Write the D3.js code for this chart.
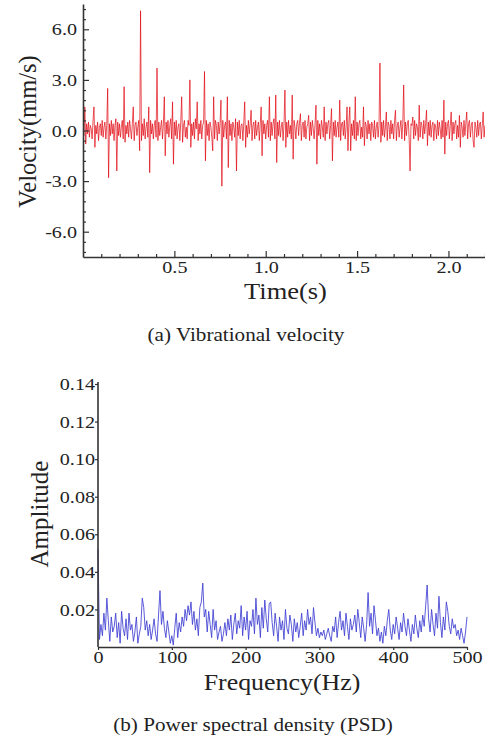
<!DOCTYPE html>
<html>
<head>
<meta charset="utf-8">
<script src="https://cdn.jsdelivr.net/npm/d3@7"></script>
<style>
  body { margin: 0; background: #fff; }
  svg { display: block; }
  text { font-family: "Liberation Serif", "Times New Roman", serif; fill: #222; }
  .axis path, .axis line { stroke: #333; }
</style>
</head>
<body>
<div id="chart"></div>
<script>
/* DATA */
// (a) velocity in mm/s, one value every 0.005 s from 0 to 2.2 s
const timeStep = 0.005;
const velocity = [
  0.2, -0.3, 1.4, -0.8, 0.4, -0.2, 0.5, -0.4, 0.3, 0.1, -0.5, 0.6, 1.4, -1.0, 0.3, -0.2, 0.5, -0.6, 0.2, 0.4,
  -0.3, 0.6, -0.4, 0.2, 0.5, -0.5, 0.3, 2.5, -2.8, 0.4, -0.3, 0.6, -0.2, 0.4, -0.6, 0.3, 0.7, -2.4, 0.5, -0.3,
  0.4, -0.4, 0.2, 0.6, -0.5, 2.6, -0.7, 0.3, -0.2, 0.5, -0.4, 0.6, 0.1, -0.5, 0.4, 1.4, -0.6, 0.3, 0.5, -0.3,
  0.2, 0.6, -1.2, 7.1, -0.6, 0.4, -0.3, 0.7, -0.5, 0.2, 0.5, -0.4, 1.4, -2.5, 0.6, -0.2, 0.4, -0.5, 0.3, 0.6,
  -0.4, 3.7, -0.6, 0.5, -0.3, 0.2, 0.6, -0.5, 0.4, 2.0, -1.5, 0.5, -0.2, 0.6, -0.4, 0.3, 0.7, -0.5, 1.7, -2.0,
  0.5, -0.3, 0.6, -0.5, 0.2, 0.4, -0.6, 0.5, 2.0, -0.7, 0.3, 0.6, -0.4, 0.2, -0.5, 0.6, 0.3, 3.0, -1.0, 0.4,
  -0.3, 0.5, -0.5, 0.7, 0.1, 1.7, -0.6, 0.4, -0.2, 0.6, -0.5, 0.3, 0.5, 3.5, -1.8, 0.6, -0.3, 0.4, -0.6, 0.5,
  0.2, -0.4, -1.2, 2.0, -0.5, 0.6, 0.3, -0.6, 0.5, -0.2, 0.4, 1.8, -3.3, 0.6, -0.4, 0.3, 0.5, -0.5, 2.0, -2.2,
  0.6, -0.3, 0.4, -0.6, 0.5, 0.2, -0.4, 0.7, -2.4, 0.5, -0.3, 0.6, -0.5, 0.3, 0.4, -0.6, 0.5, 1.7, -1.0, 0.3,
  -0.4, 0.6, -0.2, 0.4, 1.2, -0.6, 0.3, 0.5, -0.5, 0.6, -0.3, 0.2, 0.5, -0.6, 0.4, 1.4, -1.5, 0.6, -0.2, 0.4,
  -0.5, 0.3, 0.6, -0.4, 2.0, -0.6, 0.5, -0.3, 0.4, 0.7, -0.5, 2.1, -1.9, 0.5, -0.3, 0.6, -0.4, 0.2, 0.5, -0.6,
  0.4, 2.4, -1.0, 0.5, -0.4, 0.6, -0.2, 0.3, -0.5, 2.1, -1.7, 0.6, 0.2, -0.5, 0.4, 0.6, -0.3, 0.5, 1.0, -0.6,
  0.3, 0.5, -0.4, 0.6, -0.5, 0.2, 0.4, 0.9, -0.6, 0.5, -0.3, 0.6, 0.1, -0.5, 0.4, 1.5, -2.0, 0.6, -0.3, 0.4,
  -0.5, 0.6, 0.2, -0.4, 1.4, -0.6, 0.5, -0.2, 0.4, 0.6, -0.5, 0.3, 1.3, -1.8, 0.5, -0.3, 0.6, -0.4, 0.2, 0.5,
  -0.4, 1.8, -0.6, 0.4, 0.5, -0.3, 0.6, -0.5, 0.2, 1.4, -1.2, 0.5, 1.4, -1.2, 0.4, -0.3, 0.6, -0.5, 2.0, -0.6,
  0.5, -0.3, 0.4, 0.6, -0.5, 0.2, -0.4, 1.4, -0.9, 0.5, 0.3, -0.5, 0.6, -0.2, 0.4, -0.6, 0.5, 0.3, -0.4, 0.6,
  -0.5, 0.2, 0.5, -0.4, 0.3, 4.0, -0.7, 0.5, -0.3, 0.6, -0.4, 0.2, 1.1, -0.6, 0.5, 0.3, -0.5, 0.6, -0.2, 0.4,
  -0.5, 0.6, 1.2, -0.6, 0.3, 0.5, -0.4, 0.2, 0.6, -0.5, 0.4, 2.7, -0.6, 0.5, -0.3, 0.4, 0.6, -0.5, -2.4, 0.4,
  0.3, 0.8, -0.5, 0.6, -0.3, 0.4, 0.2, -0.6, 1.5, -0.4, 0.5, 0.3, -0.5, 0.6, -0.2, 0.4, 1.2, -0.9, 0.5, -0.3,
  0.6, -0.4, 0.3, 0.5, -0.6, 0.4, 0.2, -0.5, 0.6, -0.3, 0.5, 0.1, -0.5, 0.6, -0.4, 1.8, -1.4, 0.5, -0.3, 0.4,
  0.6, -0.5, 0.3, 1.1, -0.6, 0.5, -0.2, 0.4, 0.6, -0.5, 0.3, -0.4, 0.9, -1.0, 0.5, 0.2, -0.4, 0.6, -0.3, 0.4,
  1.1, -0.5, 0.4, 0.6, -0.4, 0.3, 0.5, -0.6, -1.0, 0.5, 0.2, -0.4, 0.6, -0.3, 0.4, 0.5, -0.5, 0.3, 1.1, -0.4,
  0.3
];
const velTicks = [-6, -3, 0, 3, 6];
const timeTicks = [0.5, 1.0, 1.5, 2.0];

// (b) PSD amplitude, one value every 2 Hz from 0 to 500 Hz
const freqStep = 2;
const amplitude = [
  0.052, 0.004, 0.012, 0.006, 0.018, 0.009, 0.026, 0.014, 0.003, 0.016, 0.008, 0.011, 0.018, 0.005, 0.013, 0.002, 0.019, 0.010, 0.006, 0.015, 0.004, 0.018, 0.009, 0.012, 0.003,
  0.008, 0.016, 0.002, 0.007, 0.011, 0.026, 0.021, 0.009, 0.014, 0.006, 0.012, 0.004, 0.009, 0.015, 0.007, 0.003, 0.017, 0.030, 0.012, 0.019, 0.010, 0.005, 0.014, 0.008, 0.002,
  0.006, 0.001, 0.010, 0.018, 0.005, 0.013, 0.008, 0.016, 0.011, 0.020, 0.014, 0.022, 0.017, 0.024, 0.012, 0.019, 0.009, 0.015, 0.006, 0.021, 0.024, 0.034, 0.016, 0.020, 0.008,
  0.019, 0.012, 0.005, 0.020, 0.009, 0.014, 0.004, 0.008, 0.011, 0.003, 0.007, 0.013, 0.006, 0.015, 0.009, 0.017, 0.004, 0.012, 0.018, 0.007, 0.014, 0.010, 0.022, 0.006, 0.016,
  0.009, 0.019, 0.004, 0.014, 0.011, 0.020, 0.007, 0.026, 0.012, 0.017, 0.005, 0.021, 0.010, 0.025, 0.015, 0.008, 0.023, 0.024, 0.013, 0.006, 0.018, 0.011, 0.003, 0.016, 0.009,
  0.014, 0.004, 0.020, 0.010, 0.007, 0.017, 0.012, 0.003, 0.015, 0.008, 0.013, 0.005, 0.011, 0.018, 0.006, 0.014, 0.009, 0.020, 0.012, 0.016, 0.007, 0.021, 0.013, 0.006, 0.010,
  0.005, 0.008, 0.006, 0.009, 0.004, 0.007, 0.010, 0.006, 0.003, 0.011, 0.008, 0.016, 0.005, 0.013, 0.019, 0.009, 0.014, 0.006, 0.018, 0.011, 0.004, 0.015, 0.009, 0.012, 0.017,
  0.008, 0.020, 0.013, 0.005, 0.016, 0.010, 0.003, 0.012, 0.029, 0.011, 0.018, 0.007, 0.022, 0.014, 0.006, 0.010, 0.003, 0.008, 0.002, 0.011, 0.006, 0.014, 0.020, 0.009, 0.004,
  0.012, 0.007, 0.016, 0.010, 0.004, 0.013, 0.008, 0.018, 0.011, 0.006, 0.015, 0.009, 0.003, 0.012, 0.007, 0.017, 0.010, 0.005, 0.014, 0.008, 0.017, 0.011, 0.022, 0.033, 0.015,
  0.008, 0.020, 0.012, 0.006, 0.018, 0.010, 0.027, 0.013, 0.005, 0.016, 0.009, 0.024, 0.019, 0.011, 0.007, 0.015, 0.010, 0.012, 0.006, 0.009, 0.004, 0.010, 0.006, 0.002, 0.008,
  0.016
];
const ampTicks = [0.02, 0.04, 0.06, 0.08, 0.10, 0.12, 0.14];
const freqTicks = [0, 100, 200, 300, 400, 500];

/* LAYOUT */
const width = 485, height = 740;
const panelA = { left: 83, right: 485, top: 4, bottom: 257 };
const panelB = { left: 98, right: 467, top: 382, bottom: 647 };
const serif = "'Liberation Serif', 'Times New Roman', serif";
const tickFont = 17.5;
const widen = 1.15; // the source figure is a little stretched sideways

// stretch horizontal text sideways to match the source
function stretch(sel, k) {
  sel.each(function() {
    const w = this.getComputedTextLength();
    d3.select(this).attr("textLength", w * k).attr("lengthAdjust", "spacingAndGlyphs");
  });
}

const svg = d3.select("#chart")
  .append("svg")
  .attr("width", width)
  .attr("height", height);

svg.append("rect").attr("width", width).attr("height", height).attr("fill", "#fff");

/* (a) VIBRATIONAL VELOCITY */
const xTime = d3.scaleLinear().domain([0, 2.2]).range([panelA.left, panelA.right]);
const yVel = d3.scaleLinear().domain([-7.5, 7.5]).range([panelA.bottom, panelA.top]);

svg.append("clipPath").attr("id", "clipA")
  .append("rect")
  .attr("x", panelA.left).attr("y", panelA.top)
  .attr("width", panelA.right - panelA.left).attr("height", panelA.bottom - panelA.top);

const velLine = d3.line()
  .x((d, i) => xTime(i * timeStep))
  .y(d => yVel(d));

svg.append("path")
  .datum(velocity)
  .attr("clip-path", "url(#clipA)")
  .attr("fill", "none")
  .attr("stroke", "#e0000a")
  .attr("stroke-width", 0.85)
  .attr("stroke-opacity", 0.8)
  .attr("d", velLine);

// minor ticks (inward)
const velMinor = d3.range(-7.2, 7.21, 0.6).filter(v => !velTicks.some(t => Math.abs(t - v) < 1e-6));
const timeMinor = d3.range(0.1, 2.21, 0.1).filter(v => !timeTicks.some(t => Math.abs(t - v) < 1e-6));

svg.append("g")
  .attr("class", "axis")
  .attr("transform", `translate(${panelA.left},0)`)
  .call(d3.axisLeft(yVel).tickValues(velMinor).tickSize(-3).tickFormat(""))
  .call(g => g.select(".domain").remove());

svg.append("g")
  .attr("class", "axis")
  .attr("transform", `translate(0,${panelA.bottom})`)
  .call(d3.axisBottom(xTime).tickValues(timeMinor).tickSize(-3).tickFormat(""))
  .call(g => g.select(".domain").remove());

const yAxisA = svg.append("g")
  .attr("class", "axis")
  .attr("transform", `translate(${panelA.left},0)`)
  .call(d3.axisLeft(yVel).tickValues(velTicks).tickSizeInner(-6).tickSizeOuter(0)
    .tickFormat(d => d.toFixed(1)));
yAxisA.selectAll("text").attr("x", -6);

const xAxisA = svg.append("g")
  .attr("class", "axis")
  .attr("transform", `translate(0,${panelA.bottom})`)
  .call(d3.axisBottom(xTime).tickValues(timeTicks).tickSizeInner(-6).tickSizeOuter(0)
    .tickFormat(d => d.toFixed(1)));
xAxisA.selectAll("text").attr("y", 4);

svg.append("text")
  .attr("transform", `translate(36,131.5) rotate(-90)`)
  .attr("text-anchor", "middle")
  .attr("font-size", 24.5)
  .text("Velocity(mm/s)");

svg.append("text")
  .attr("class", "wide")
  .attr("x", 285.5).attr("y", 298.5)
  .attr("text-anchor", "middle")
  .attr("font-size", 23)
  .text("Time(s)");

svg.append("text")
  .attr("class", "wide")
  .attr("x", 246).attr("y", 341)
  .attr("text-anchor", "middle")
  .attr("font-size", 18.4)
  .text("(a) Vibrational velocity");

/* (b) POWER SPECTRAL DENSITY */
const xFreq = d3.scaleLinear().domain([0, 500]).range([panelB.left, panelB.right]);
const yAmp = d3.scaleLinear().domain([0, 0.14]).range([panelB.bottom, panelB.top + 2]);

const ampLine = d3.line()
  .x((d, i) => xFreq(i * freqStep))
  .y(d => yAmp(d));

svg.append("path")
  .datum(amplitude)
  .attr("fill", "none")
  .attr("stroke", "#3d3dd2")
  .attr("stroke-width", 0.85)
  .attr("d", ampLine);

const yAxisB = svg.append("g")
  .attr("class", "axis")
  .attr("transform", `translate(${panelB.left},0)`)
  .call(d3.axisLeft(yAmp).tickValues(ampTicks).tickSizeInner(3).tickSizeOuter(0)
    .tickFormat(d => d.toFixed(2)));
yAxisB.selectAll("text").attr("x", -3);
yAxisB.select(".domain").attr("d", `M0,${panelB.top}V${panelB.bottom}`);

const xAxisB = svg.append("g")
  .attr("class", "axis")
  .attr("transform", `translate(0,${panelB.bottom})`)
  .call(d3.axisBottom(xFreq).tickValues(freqTicks).tickSizeInner(3).tickSizeOuter(0).tickPadding(1)
    .tickFormat(d3.format("d")));

svg.append("text")
  .attr("transform", `translate(48,514) rotate(-90)`)
  .attr("text-anchor", "middle")
  .attr("font-size", 25)
  .text("Amplitude");

svg.append("text")
  .attr("class", "wide")
  .attr("x", 282).attr("y", 690)
  .attr("text-anchor", "middle")
  .attr("font-size", 22.5)
  .text("Frequency(Hz)");

svg.append("text")
  .attr("class", "wide")
  .attr("x", 253).attr("y", 731)
  .attr("text-anchor", "middle")
  .attr("font-size", 18.4)
  .text("(b) Power spectral density (PSD)");

/* AXIS STYLE */
svg.selectAll(".axis")
  .attr("font-family", serif)
  .attr("font-size", tickFont);
svg.selectAll(".axis text").attr("fill", "#222");
svg.selectAll(".axis .domain").attr("stroke-width", 1.6);
svg.selectAll(".axis .tick line").attr("stroke-width", 1.2);

stretch(svg.selectAll(".axis text"), widen);
stretch(svg.selectAll("text.wide"), widen);
</script>
</body>
</html>
